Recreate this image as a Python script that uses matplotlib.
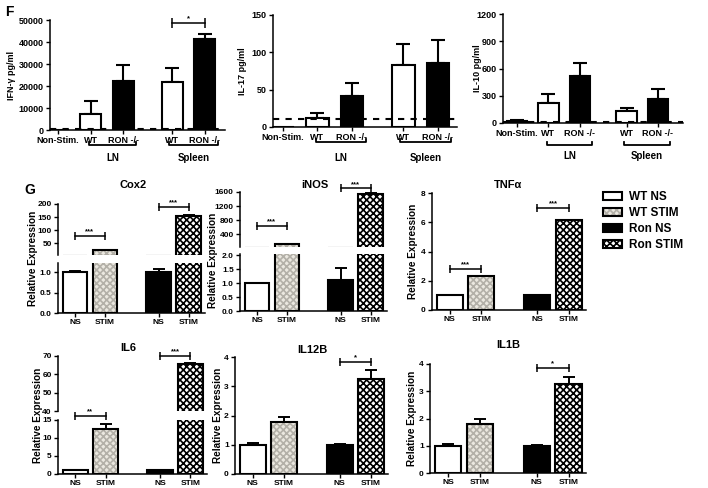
import numpy as np
import matplotlib
matplotlib.use('Agg')
import matplotlib.pyplot as plt
from matplotlib.patches import Patch
from matplotlib import transforms

plt.rcParams['font.family'] = ['Liberation Sans', 'DejaVu Sans']
plt.rcParams['font.weight'] = 'bold'
plt.rcParams['hatch.linewidth'] = 1.2

# ---- data: panel F (cytokines, pg/ml) ----
f_labels = ['Non-Stim.', 'WT', 'RON -/-', 'WT', 'RON -/-']
f_x = [0, 1, 2, 3.5, 4.5]
f_colors = ['white', 'white', 'black', 'white', 'black']

ifng_mean = [200, 7300, 22300, 22000, 41500]
ifng_err = [0, 5800, 7200, 6200, 2000]
il17_mean = [0, 12, 41, 83, 86]
il17_err = [0, 7, 18, 28, 31]
il10_mean = [20, 225, 520, 130, 265]
il10_err = [10, 90, 140, 40, 105]
limits = [500, 11, 15]

# ---- data: panel G (relative expression) ----
g_labels = ['NS', 'STIM', 'NS', 'STIM']
g_x = [0, 1, 2.8, 3.8]
legend_names = ['WT NS', 'WT STIM', 'Ron NS', 'Ron STIM']

cox2_mean = [1.0, 25, 1.0, 155]
cox2_err = [0.02, 0, 0.07, 3]
inos_mean = [1.0, 120, 1.1, 1550]
inos_err = [0.02, 0, 0.45, 10]
tnf_mean = [1.0, 2.35, 1.03, 6.15]
tnf_err = [0, 0, 0, 0.03]
il6_mean = [1.0, 12.6, 1.0, 65.5]
il6_err = [0, 1.2, 0, 0.7]
il12b_mean = [1.0, 1.78, 1.0, 3.25]
il12b_err = [0.07, 0.18, 0.02, 0.3]
il1b_mean = [1.0, 1.8, 1.0, 3.25]
il1b_err = [0.08, 0.18, 0.02, 0.27]

W, H = 708, 488
fig = plt.figure(figsize=(W / 100, H / 100), dpi=100)


def fy(p):
    return 1 - p / H


def px_axes(l, t, r, b):
    return fig.add_axes([l / W, 1 - b / H, (r - l) / W, (b - t) / H])


def style_axes(ax, bottom=True, size=6.5):
    for s in ['top', 'right']:
        ax.spines[s].set_visible(False)
    ax.spines['left'].set_linewidth(1.1)
    ax.spines['bottom'].set_linewidth(1.1)
    if not bottom:
        ax.spines['bottom'].set_visible(False)
        ax.tick_params(axis='x', bottom=False, labelbottom=False)
    ax.tick_params(axis='both', length=3, width=1, labelsize=size, pad=1.5)
    for t in ax.get_yticklabels() + ax.get_xticklabels():
        t.set_fontweight('bold')


def sig_bar(ax, x0, x1, y, txt, ms=6):
    ax.plot([x0, x1], [y, y], color='black', lw=1.1, marker='|', ms=ms, mew=1.1,
            clip_on=False, zorder=5)
    ax.annotate(txt, xy=((x0 + x1) / 2, y), xytext=(0, 0.5), textcoords='offset points',
                ha='center', va='bottom', fontsize=5.5, annotation_clip=False)


# ---------------- panel F ----------------
f_specs = [
    (ifng_mean, ifng_err, (50, 20, 225, 130), (-0.25, 5.12), (0, 50000),
     [0, 10000, 20000, 30000, 40000, 50000], 'IFN-γ pg/ml', (12, 75), (145, 158)),
    (il17_mean, il17_err, (273, 15, 457, 127), (-0.29, 5.06), (0, 150),
     [0, 50, 100, 150], 'IL-17 pg/ml', (243, 71), (142, 158)),
    (il10_mean, il10_err, (503, 14, 683, 123), (-0.45, 5.3), (0, 1200),
     [0, 300, 600, 900, 1200], 'IL-10 pg/ml', (477, 68), (145, 156)),
]

for i, (mean, err, box, xl, yl, yt, ylab, ylxy, bry) in enumerate(f_specs):
    ax = px_axes(*box)
    ax.bar(f_x, mean, width=0.65, color=f_colors, edgecolor='black', linewidth=1.5, zorder=2)
    for xi, m, e in zip(f_x, mean, err):
        if e > 0:
            ax.errorbar(xi, m, yerr=[[0], [e]], fmt='none', ecolor='black',
                        elinewidth=1.5, capsize=5, capthick=1.5, zorder=1)
    ax.axhline(limits[i], color='black', lw=1.5, ls=(0, (3, 3)), zorder=3)
    ax.set_xlim(*xl)
    ax.set_ylim(*yl)
    ax.set_yticks(yt)
    ax.set_xticks(f_x)
    ax.set_xticklabels(f_labels)
    style_axes(ax)
    fig.text(ylxy[0] / W, fy(ylxy[1]), ylab, rotation=90, ha='center', va='center',
             fontsize=6.5, fontweight='bold')
    trans = transforms.blended_transform_factory(ax.transData, fig.transFigure)
    for x0, x1, name in [(f_x[1] - 0.05, f_x[2] + 0.4, 'LN'), (f_x[3] - 0.1, f_x[4] + 0.4, 'Spleen')]:
        ax.plot([x0, x0, x1, x1], [fy(bry[0] - 3), fy(bry[0]), fy(bry[0]), fy(bry[0] - 3)],
                transform=trans, clip_on=False, color='black', lw=1.3)
        ax.text((x0 + x1) / 2, fy(bry[1]), name, transform=trans, ha='center', va='center',
                fontsize=7, fontweight='bold')
    if i == 0:
        sig_bar(ax, f_x[3], f_x[4], 48600, '*', ms=7)

fig.text(9 / W, fy(12), 'F', fontsize=10, fontweight='bold', ha='center', va='center')
fig.text(30 / W, fy(190), 'G', fontsize=10, fontweight='bold', ha='center', va='center')


# ---------------- panel G ----------------
def g_bars(ax, mean, err, yl):
    w = 0.83
    # WT NS
    ax.bar(g_x[0], mean[0], w, color='white', edgecolor='black', lw=1.5, zorder=2)
    # WT STIM (light checker)
    ax.bar(g_x[1], mean[1], w, color='#ebe8e0', edgecolor='#b3b0a8', hatch='xxxxx', lw=0, zorder=2)
    ax.bar(g_x[1], mean[1], w, fill=False, edgecolor='black', lw=1.5, zorder=3)
    # Ron NS
    ax.bar(g_x[2], mean[2], w, color='black', edgecolor='black', lw=1.5, zorder=2)
    # Ron STIM (dark checker)
    ax.bar(g_x[3], mean[3], w, color='white', edgecolor='black', hatch='xxxxx', lw=0, zorder=2)
    ax.bar(g_x[3], mean[3], w, fill=False, edgecolor='black', lw=1.5, zorder=3)
    for xi, m, e in zip(g_x, mean, err):
        if e > 0 and yl[0] <= m + e <= yl[1]:
            ax.errorbar(xi, m, yerr=[[0], [e]], fmt='none', ecolor='black',
                        elinewidth=1.4, capsize=4, capthick=1.4, zorder=1)


def g_panel(segments, mean, err, sigs, title, title_xy, ylab_xy):
    axes = []
    for k, (box, yl, yt, ytl) in enumerate(segments):
        ax = px_axes(*box)
        g_bars(ax, mean, err, yl)
        ax.set_xlim(-0.57, 4.35)
        ax.set_ylim(*yl)
        ax.set_yticks(yt)
        ax.set_yticklabels(ytl)
        last = k == len(segments) - 1
        if last:
            ax.set_xticks(g_x)
            ax.set_xticklabels(g_labels)
        style_axes(ax, bottom=last, size=6)
        axes.append(ax)
    for k, x0, x1, y, txt in sigs:
        sig_bar(axes[k], g_x[x0], g_x[x1], y, txt)
    fig.text(title_xy[0] / W, fy(title_xy[1]), title, ha='center', va='center',
             fontsize=8, fontweight='bold')
    fig.text(ylab_xy[0] / W, fy(ylab_xy[1]), 'Relative Expression', rotation=90,
             ha='center', va='center', fontsize=7.2, fontweight='bold')
    return axes


g_panel([((58, 204, 205, 255), (4, 200), [50, 100, 150, 200], ['50', '100', '150', '200']),
         ((58, 263, 205, 313), (0, 1.22), [0, 0.5, 1.0], ['0.0', '0.5', '1.0'])],
        cox2_mean, cox2_err, [(0, 0, 1, 77, '***'), (0, 2, 3, 188, '***')],
        'Cox2', (133, 185), (33, 258))

g_panel([((240, 192, 387, 247), (29, 1600), [400, 800, 1200, 1600], ['400', '800', '1200', '1600']),
         ((240, 254, 387, 311), (0, 2.05), [0, 0.5, 1.0, 1.5, 2.0], ['0.0', '0.5', '1.0', '1.5', '2.0'])],
        inos_mean, inos_err, [(0, 0, 1, 630, '***'), (0, 2, 3, 1700, '***')],
        'iNOS', (315, 185), (213, 260))

g_panel([((432, 193, 586, 310), (0, 8), [0, 2, 4, 6, 8], ['0', '2', '4', '6', '8'])],
        tnf_mean, tnf_err, [(0, 0, 1, 2.8, '***'), (0, 2, 3, 7.0, '***')],
        'TNFα', (508, 185), (413, 251))

g_panel([((58, 356, 207, 411), (40, 70), [40, 50, 60, 70], ['40', '50', '60', '70']),
         ((58, 420, 207, 474), (0, 15), [0, 5, 10, 15], ['0', '5', '10', '15'])],
        il6_mean, il6_err, [(1, 0, 1, 16.1, '**'), (0, 2, 3, 70, '***')],
        'IL6', (128, 348), (38, 415))

g_panel([((235, 357, 388, 474), (0, 4), [0, 1, 2, 3, 4], ['0', '1', '2', '3', '4'])],
        il12b_mean, il12b_err, [(0, 2, 3, 3.83, '*')],
        'IL12B', (312, 350), (218, 415))

g_panel([((430, 364, 586, 473), (0, 4), [0, 1, 2, 3, 4], ['0', '1', '2', '3', '4'])],
        il1b_mean, il1b_err, [(0, 2, 3, 3.85, '*')],
        'IL1B', (508, 345), (412, 418))

# legend
handles = [
    Patch(facecolor='white', edgecolor='black', lw=1.5),
    (Patch(facecolor='#ebe8e0', edgecolor='#b3b0a8', hatch='xxxxx', lw=0),
     Patch(fill=False, edgecolor='black', lw=1.5)),
    Patch(facecolor='black', edgecolor='black', lw=1.5),
    (Patch(facecolor='white', edgecolor='black', hatch='xxxxx', lw=0),
     Patch(fill=False, edgecolor='black', lw=1.5)),
]
fig.legend(handles, legend_names, loc='upper left', bbox_to_anchor=(603 / W, fy(191)),
           frameon=False, borderpad=0, borderaxespad=0, handlelength=1.6, handleheight=0.7,
           handletextpad=0.6, labelspacing=0.35, prop={'size': 8.5, 'weight': 'bold'})

fig.savefig('out.png', dpi=100)
